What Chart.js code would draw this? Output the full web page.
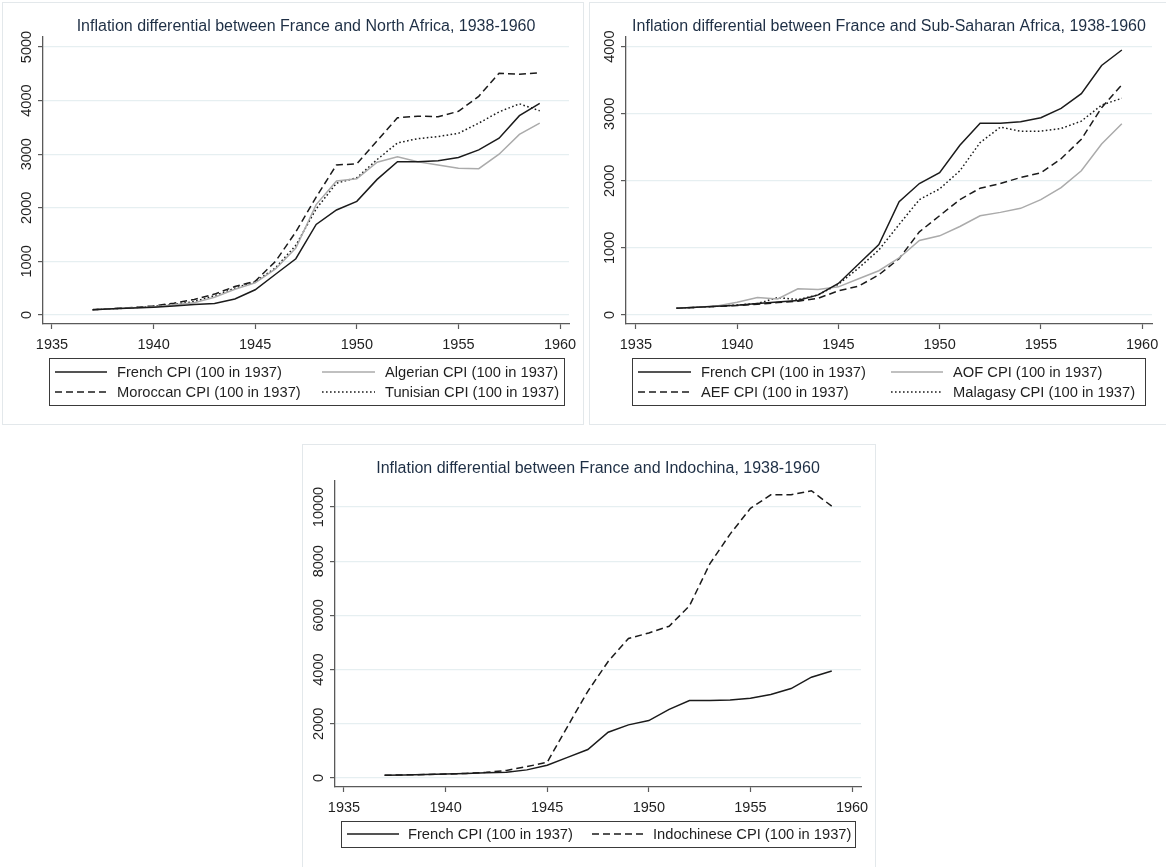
<!DOCTYPE html>
<html>
<head>
<meta charset="utf-8">
<script src="https://cdn.jsdelivr.net/npm/chart.js@4.4.0/dist/chart.umd.min.js"></script>
<style>
  body { margin: 0; background: #fff; width: 1166px; height: 867px; overflow: hidden; position: relative; }
  .frame { position: absolute; border: 1px solid #e3e8eb; box-sizing: border-box; }
  .wrap { position: absolute; }
  .wrap canvas { display: block; }
</style>
</head>
<body>
<div class="frame" style="left:2px;top:2px;width:582px;height:423px"></div>
<div class="frame" style="left:589px;top:2px;width:580px;height:423px"></div>
<div class="frame" style="left:302px;top:444px;width:574px;height:430px"></div>

<div class="wrap" style="left:0;top:0"><canvas id="northAfrica" width="585" height="424"></canvas></div>
<div class="wrap" style="left:588px;top:0"><canvas id="subSahara" width="578" height="424"></canvas></div>
<div class="wrap" style="left:300px;top:440px"><canvas id="indochina" width="576" height="427"></canvas></div>

<script>
// data (index, 100 in 1937)
const years = [1937, 1938, 1939, 1940, 1941, 1942, 1943, 1944, 1945, 1946, 1947, 1948,
               1949, 1950, 1951, 1952, 1953, 1954, 1955, 1956, 1957, 1958, 1959];
const frenchCPI      = [100, 115, 130, 145, 170, 195, 215, 300, 470, 760, 1050, 1690, 1960, 2120, 2530, 2860, 2860, 2880, 2940, 3080, 3300, 3720, 3950];
const algerianCPI    = [100, 115, 135, 150, 190, 230, 330, 480, 600, 860, 1250, 2060, 2500, 2540, 2850, 2950, 2860, 2800, 2740, 2730, 3000, 3370, 3580];
const moroccanCPI    = [100, 120, 140, 170, 220, 290, 390, 530, 630, 1000, 1550, 2200, 2800, 2820, 3250, 3680, 3710, 3700, 3800, 4080, 4510, 4490, 4520];
const tunisianCPI    = [100, 115, 135, 160, 200, 250, 360, 500, 620, 880, 1300, 1980, 2460, 2560, 2900, 3210, 3290, 3330, 3390, 3580, 3790, 3940, 3810];
const aofCPI         = [100, 115, 135, 190, 260, 240, 390, 380, 420, 540, 660, 850, 1110, 1180, 1320, 1480, 1530, 1590, 1720, 1900, 2150, 2550, 2850];
const aefCPI         = [100, 115, 130, 140, 160, 185, 205, 250, 360, 430, 600, 840, 1240, 1480, 1720, 1890, 1960, 2050, 2120, 2330, 2620, 3090, 3430];
const malagasyCPI    = [100, 115, 130, 150, 170, 260, 230, 300, 460, 700, 970, 1350, 1720, 1880, 2150, 2570, 2800, 2740, 2740, 2780, 2890, 3130, 3230];
const indochineseCPI = [100, 115, 130, 145, 170, 210, 280, 420, 580, 1900, 3200, 4300, 5150, 5350, 5600, 6350, 7900, 9000, 9950, 10450, 10450, 10600, 10030];

const xTicks = [1935, 1940, 1945, 1950, 1955, 1960];
const yTicksNorth = [0, 1000, 2000, 3000, 4000, 5000];
const yTicksSouth = [0, 1000, 2000, 3000, 4000];
const yTicksIndo = [0, 2000, 4000, 6000, 8000, 10000];

const FONT = '"Liberation Sans", Arial, Helvetica, sans-serif';
const BLACK = '#1b1b1b';
const GREY = '#ababab';
const DASH = [7, 4];
const DOT = [1.6, 2.4];

function series(label, values, color, dash) {
    return {
        label: label,
        data: years.map((y, i) => ({ x: y, y: values[i] })),
        borderColor: color,
        borderWidth: 1.5,
        borderDash: dash || [],
        pointRadius: 0,
        tension: 0,
        fill: false
    };
}

// title, rotated y labels and the boxed two-column legend, Stata style
const stataBits = {
    id: 'stataBits',
    afterDraw(chart, args, opts) {
        const ctx = chart.ctx;
        const area = chart.chartArea;
        const yScale = chart.scales.y;
        ctx.save();
        ctx.font = '16px ' + FONT;
        ctx.fillStyle = '#1e2f45';
        ctx.textAlign = 'center';
        ctx.textBaseline = 'middle';
        ctx.fillText(opts.title, (area.left + area.right) / 2, area.top - opts.titleGap);

        ctx.font = '14.5px ' + FONT;
        ctx.fillStyle = '#1f1f1f';
        for (const t of yScale.ticks) {
            const py = yScale.getPixelForValue(t.value);
            ctx.save();
            ctx.translate(area.left - 16, py);
            ctx.rotate(-Math.PI / 2);
            ctx.fillText(String(t.value), 0, 0);
            ctx.restore();
        }

        const L = opts.legend;
        ctx.font = '14.7px ' + FONT;
        ctx.strokeStyle = '#3a3a3a';
        ctx.lineWidth = 1;
        ctx.setLineDash([]);
        ctx.strokeRect(L.box[0] + 0.5, L.box[1] + 0.5, L.box[2] - L.box[0], L.box[3] - L.box[1]);
        chart.data.datasets.forEach((ds, i) => {
            const it = L.items[i];
            ctx.beginPath();
            ctx.setLineDash(ds.borderDash);
            ctx.strokeStyle = ds.borderColor;
            ctx.lineWidth = ds.borderWidth;
            ctx.moveTo(it[0], it[3]);
            ctx.lineTo(it[1], it[3]);
            ctx.stroke();
            ctx.setLineDash([]);
            ctx.textAlign = 'left';
            ctx.fillStyle = '#1f1f1f';
            ctx.fillText(ds.label, it[2], it[3] + 0.5);
        });
        ctx.restore();
    }
};

function makeChart(id, datasets, g) {
    return new Chart(document.getElementById(id), {
        type: 'line',
        data: { datasets: datasets },
        plugins: [stataBits],
        options: {
            responsive: false,
            animation: false,
            layout: { padding: g.padding },
            plugins: {
                legend: { display: false },
                title: { display: false },
                tooltip: { enabled: false },
                stataBits: { title: g.title, titleGap: g.titleGap, legend: g.legend }
            },
            scales: {
                x: {
                    type: 'linear',
                    min: g.xMin,
                    max: g.xMax,
                    afterBuildTicks: (s) => { s.ticks = xTicks.map(v => ({ value: v })); },
                    afterFit: (s) => { s.height = g.xHeight; },
                    grid: { drawOnChartArea: false, drawTicks: true, tickLength: 5, tickColor: '#5a5a5a', tickWidth: 1.2 },
                    border: { display: true, color: '#5a5a5a', width: 1.3 },
                    ticks: {
                        padding: 7,
                        color: '#1f1f1f',
                        font: { family: FONT, size: 14.5 },
                        maxRotation: 0,
                        autoSkip: false,
                        callback: (v) => String(v)
                    }
                },
                y: {
                    type: 'linear',
                    min: g.yMin,
                    max: g.yMax,
                    afterBuildTicks: (s) => { s.ticks = g.yTicks.map(v => ({ value: v })); },
                    afterFit: (s) => { s.width = g.yWidth; },
                    grid: { color: '#e6eff1', lineWidth: 1.2, drawTicks: true, tickLength: 5, tickColor: '#5a5a5a', tickWidth: 1.2 },
                    border: { display: true, color: '#5a5a5a', width: 1.3 },
                    ticks: { display: false }
                }
            }
        }
    });
}

makeChart('northAfrica', [
    series('French CPI (100 in 1937)', frenchCPI, BLACK),
    series('Algerian CPI (100 in 1937)', algerianCPI, GREY),
    series('Moroccan CPI (100 in 1937)', moroccanCPI, BLACK, DASH),
    series('Tunisian CPI (100 in 1937)', tunisianCPI, BLACK, DOT)
], {
    title: 'Inflation differential between France and North Africa, 1938-1960',
    titleGap: 10,
    padding: { left: 0, right: 16, top: 37, bottom: 70 },
    yWidth: 43, xHeight: 30,
    xMin: 1934.56, xMax: 1960.44,
    yMin: -168, yMax: 5187, yTicks: yTicksNorth,
    legend: {
        box: [49, 358, 564, 405],
        items: [[55, 107, 117, 372], [322, 375, 385, 372], [55, 107, 117, 392], [322, 375, 385, 392]]
    }
});

makeChart('subSahara', [
    series('French CPI (100 in 1937)', frenchCPI, BLACK),
    series('AOF CPI (100 in 1937)', aofCPI, GREY),
    series('AEF CPI (100 in 1937)', aefCPI, BLACK, DASH),
    series('Malagasy CPI (100 in 1937)', malagasyCPI, BLACK, DOT)
], {
    title: 'Inflation differential between France and Sub-Saharan Africa, 1938-1960',
    titleGap: 10,
    padding: { left: 0, right: 14, top: 37, bottom: 70 },
    yWidth: 38, xHeight: 30,
    xMin: 1934.51, xMax: 1960.49,
    yMin: -134, yMax: 4144, yTicks: yTicksSouth,
    legend: {
        box: [44, 358, 557, 405],
        items: [[50, 103, 113, 372], [303, 355, 365, 372], [50, 103, 113, 392], [303, 355, 365, 392]]
    }
});

makeChart('indochina', [
    series('French CPI (100 in 1937)', frenchCPI, BLACK),
    series('Indochinese CPI (100 in 1937)', indochineseCPI, BLACK, DASH)
], {
    title: 'Inflation differential between France and Indochina, 1938-1960',
    titleGap: 12,
    padding: { left: 0, right: 15, top: 41, bottom: 50 },
    yWidth: 35, xHeight: 30,
    xMin: 1934.56, xMax: 1960.44,
    yMin: -332, yMax: 10959, yTicks: yTicksIndo,
    legend: {
        box: [41, 381, 555, 407],
        items: [[47, 99, 108, 394], [292, 343, 353, 394]]
    }
});
</script>
</body>
</html>
